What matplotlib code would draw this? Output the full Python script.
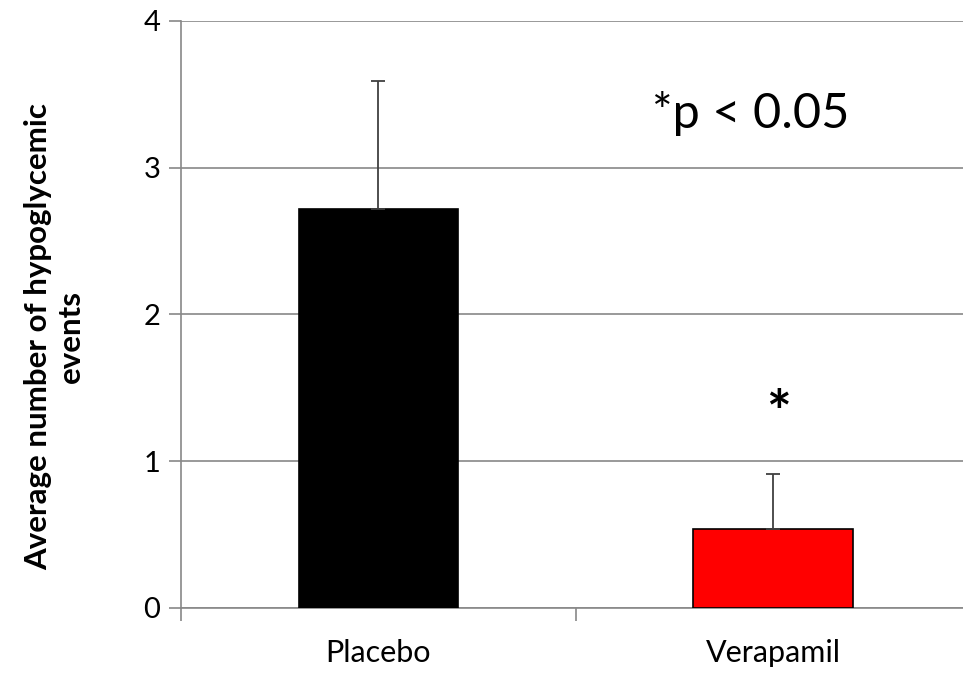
import numpy as np
import matplotlib.pyplot as plt

groups = ['Placebo', 'Verapamil']
means = [2.72, 0.54]
sem_upper = [0.87, 0.37]
bar_colors = ['#000000', '#ff0000']
yticks = [0, 1, 2, 3, 4]

plt.rcParams['font.family'] = ['Lato', 'DejaVu Sans']

fig = plt.figure(figsize=(9.63, 6.74), dpi=100)
ax = fig.add_axes([0.188, 0.098, 0.82, 0.871])

x = np.arange(len(groups))
ax.bar(x, means, width=0.405, color=bar_colors, edgecolor='black', linewidth=1.2, zorder=3)
ax.errorbar(x, means, yerr=[np.zeros(len(means)), sem_upper], fmt='none',
            ecolor='#404040', elinewidth=1.3, capsize=5, capthick=1.3, zorder=4)

ax.set_ylim(0, 4)
ax.set_xlim(-0.5, 1.5)
ax.set_yticks(yticks)
ax.set_yticklabels([str(t) for t in yticks], fontsize=21)
ax.set_xticks(x)
ax.set_xticklabels(groups, fontsize=22)
ax.set_xticks([-0.5, 0.5, 1.5], minor=True)
ax.tick_params(axis='x', which='major', length=0, pad=22)
ax.tick_params(axis='x', which='minor', length=9, color='#888888', width=1.2)
ax.tick_params(axis='y', length=9, color='#888888', width=1.2, pad=6)

ax.yaxis.grid(True, color='#888888', linewidth=1.2, zorder=0)
ax.set_axisbelow(True)
for s in ['top', 'right']:
    ax.spines[s].set_visible(False)
for s in ['left', 'bottom']:
    ax.spines[s].set_color('#888888')
    ax.spines[s].set_linewidth(1.2)

ax.set_ylabel('Average number of hypoglycemic\nevents', fontsize=22.5, fontweight='bold')
ax.yaxis.set_label_coords(-0.122, 0.463)

ax.text(0.943, 3.37, '*p < 0.05', fontsize=35, ha='center', va='center')
ax.text(1.014, 1.31, '*', fontsize=42, fontweight='bold', ha='center', va='center')

fig.savefig('out.png', dpi=100)
